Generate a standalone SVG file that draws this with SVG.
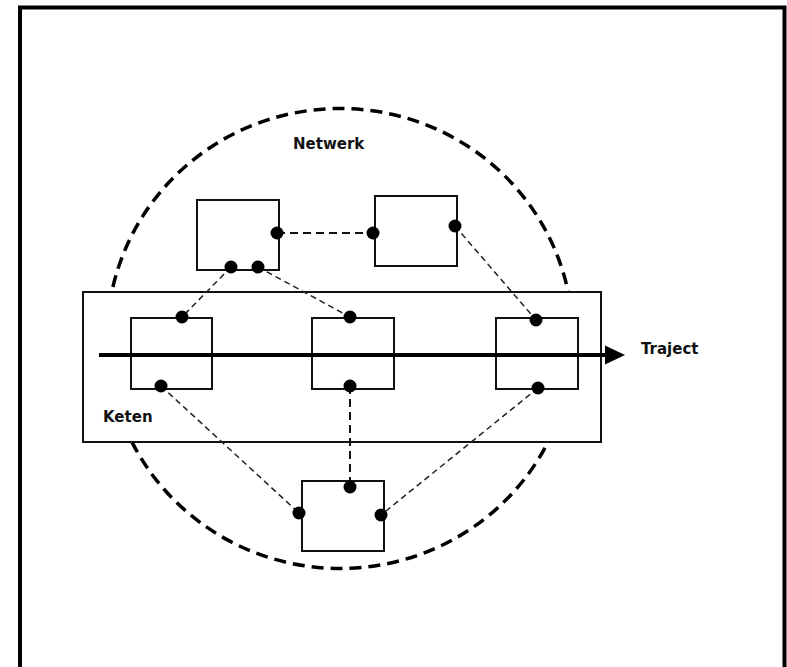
<svg xmlns="http://www.w3.org/2000/svg" width="787" height="667" viewBox="0 0 787 667">
<style>
.box{fill:#fff;stroke:#111;stroke-width:2}
.dot{fill:#000}
.conn{fill:none;stroke:#222;stroke-width:1.5;stroke-dasharray:6 4}
.conn2{fill:none;stroke:#111;stroke-width:2;stroke-dasharray:8 5}
.lbl{font-family:"DejaVu Sans",Verdana,sans-serif;font-weight:bold;font-size:15px;fill:#111}
</style>
<defs>
<marker id="arr" markerWidth="6" markerHeight="6" refX="0" refY="2.4" orient="auto" markerUnits="strokeWidth">
<path d="M0,0 L5,2.4 L0,4.8 Z" fill="#000"/>
</marker>
</defs>
<rect x="0" y="0" width="787" height="667" fill="#fff"/>
<path d="M20,667 V7.5 H784.5 V667" fill="none" stroke="#000" stroke-width="4"/>
<g id="netwerk">
<ellipse cx="340" cy="338.5" rx="233" ry="230" fill="none" stroke="#000" stroke-width="3.5" stroke-dasharray="12 7"/>
<text class="lbl" x="293" y="149">Netwerk</text>
</g>
<g id="keten">
<rect class="box" x="83" y="292" width="518" height="150"/>
<text class="lbl" x="103" y="422">Keten</text>
</g>
<g id="nodeA"><rect class="box" x="197" y="200" width="82" height="70"/></g>
<g id="nodeB"><rect class="box" x="375" y="196" width="82" height="70"/></g>
<g id="nodeC1"><rect class="box" x="131" y="318" width="81" height="71"/></g>
<g id="nodeC2"><rect class="box" x="312" y="318" width="82" height="71"/></g>
<g id="nodeC3"><rect class="box" x="496" y="318" width="82" height="71"/></g>
<g id="nodeD"><rect class="box" x="302" y="481" width="82" height="70"/></g>
<g id="traject">
<line x1="99" y1="355" x2="605" y2="355" stroke="#000" stroke-width="4" marker-end="url(#arr)"/>
<text class="lbl" x="641" y="354">Traject</text>
</g>
<g id="connectors">
<line class="conn2" x1="277" y1="233" x2="373" y2="233"/>
<line class="conn" x1="231" y1="267" x2="182" y2="317"/>
<line class="conn" x1="258" y1="267" x2="350" y2="317"/>
<line class="conn" x1="455" y1="226" x2="536" y2="320"/>
<line class="conn" x1="161" y1="386" x2="299" y2="513"/>
<line class="conn2" x1="350" y1="386" x2="350" y2="487"/>
<line class="conn" x1="538" y1="388" x2="381" y2="515"/>
</g>
<g id="ports">
<circle class="dot" cx="277" cy="233" r="6.5"/>
<circle class="dot" cx="231" cy="267" r="6.5"/>
<circle class="dot" cx="258" cy="267" r="6.5"/>
<circle class="dot" cx="373" cy="233" r="6.5"/>
<circle class="dot" cx="455" cy="226" r="6.5"/>
<circle class="dot" cx="182" cy="317" r="6.5"/>
<circle class="dot" cx="161" cy="386" r="6.5"/>
<circle class="dot" cx="350" cy="317" r="6.5"/>
<circle class="dot" cx="350" cy="386" r="6.5"/>
<circle class="dot" cx="536" cy="320" r="6.5"/>
<circle class="dot" cx="538" cy="388" r="6.5"/>
<circle class="dot" cx="350" cy="487" r="6.5"/>
<circle class="dot" cx="299" cy="513" r="6.5"/>
<circle class="dot" cx="381" cy="515" r="6.5"/>
</g>
</svg>
